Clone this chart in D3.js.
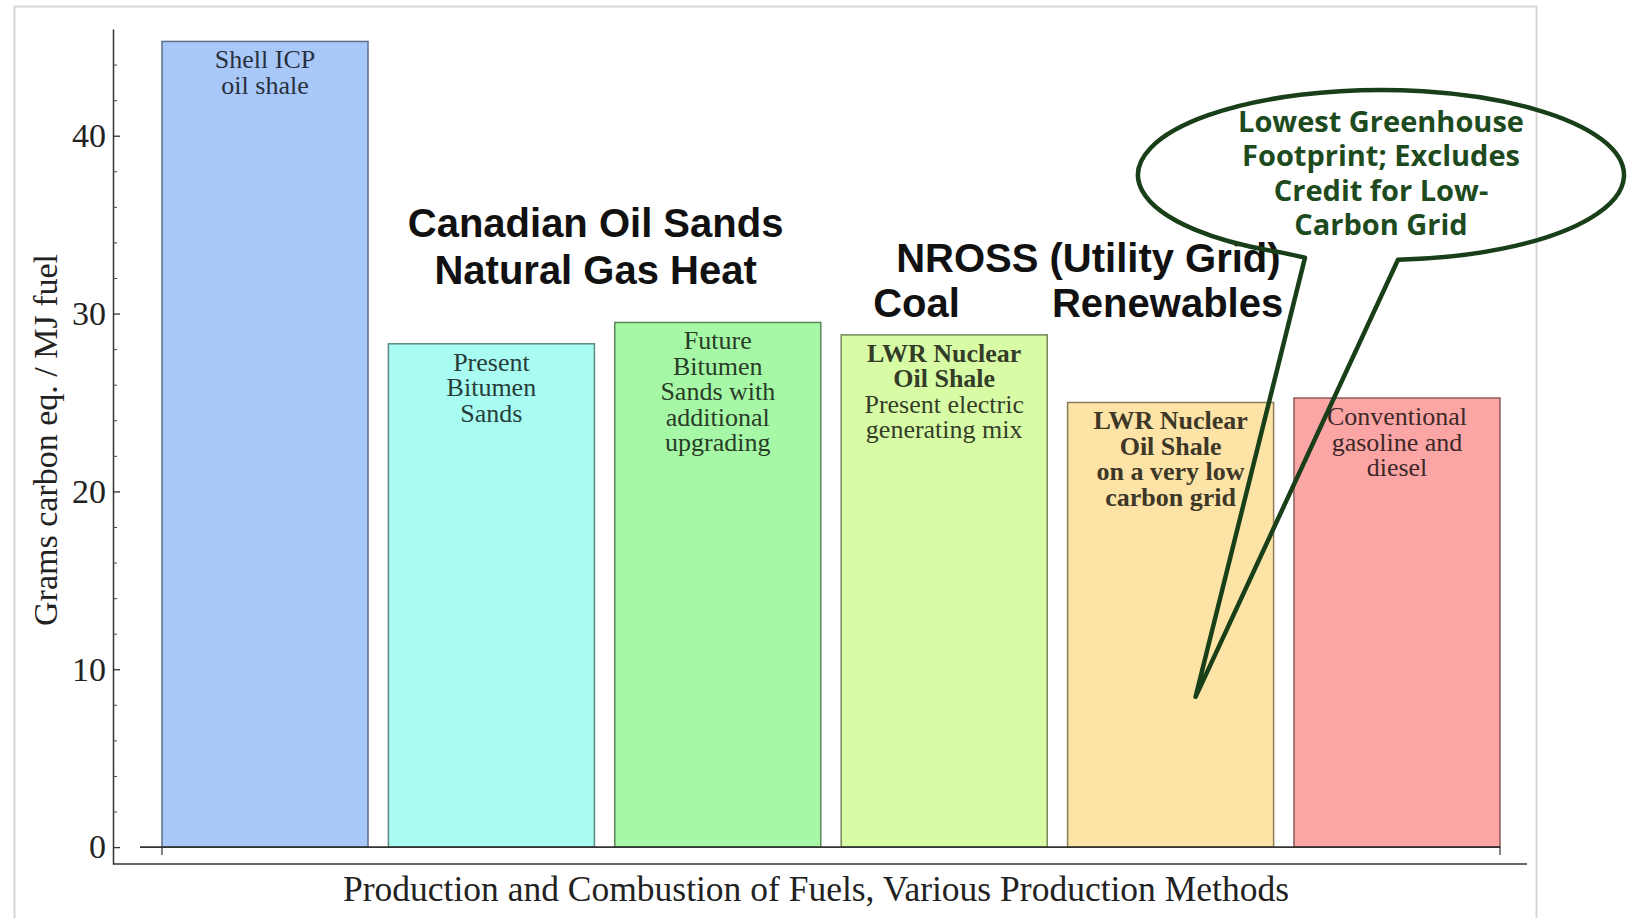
<!DOCTYPE html>
<html>
<head>
<meta charset="utf-8">
<script src="https://cdn.jsdelivr.net/npm/d3@7"></script>
<style>
  html, body { margin: 0; padding: 0; background: #fff; }
</style>
</head>
<body>
<div id="chart"></div>
<script>
// bar data, left to right
var categories = ["shell", "present", "future", "lwrmix", "lwrlow", "conventional"];
var values = [45.3, 28.3, 29.5, 28.8, 25.0, 25.25];
var colors = ["#a8c8fa", "#a8fcf2", "#a6f8a6", "#d8fca6", "#fde3a5", "#fca5a5"];
var barLabels = [
  ["Shell ICP", "oil shale"],
  ["Present", "Bitumen", "Sands"],
  ["Future", "Bitumen", "Sands with", "additional", "upgrading"],
  ["LWR Nuclear", "Oil Shale", "Present electric", "generating mix"],
  ["LWR Nuclear", "Oil Shale", "on a very low", "carbon grid"],
  ["Conventional", "gasoline and", "diesel"]
];
var boldLines = [0, 0, 0, 2, 4, 0];

var yTicks = [0, 10, 20, 30, 40];
var yMinorTicks = [2, 4, 6, 8, 12, 14, 16, 18, 22, 24, 26, 28, 32, 34, 36, 38, 42, 44];

var yTitle = "Grams carbon eq. / MJ fuel";
var xTitle = "Production and Combustion of Fuels, Various Production Methods";
var oilSandsTitle = ["Canadian Oil Sands", "Natural Gas Heat"];
var nrossTitle = "NROSS (Utility Grid)";
var nrossSub = ["Coal", "Renewables"];
var calloutLines = ["Lowest Greenhouse", "Footprint; Excludes", "Credit for Low-", "Carbon Grid"];
var calloutValue = 8.45; // where the pointer tip lands on the LWR low-carbon bar

var W = 1630, H = 918;
var serif = "'Liberation Serif', 'Times New Roman', serif";
var sans = "'Liberation Sans', Arial, sans-serif";

var svg = d3.select("#chart").append("svg")
    .attr("width", W)
    .attr("height", H)
    .attr("font-family", serif);

svg.append("rect").attr("width", W).attr("height", H).attr("fill", "#fff");

// light outer frame of the slide picture
svg.append("rect")
  .attr("x", 14.5).attr("y", 6.5)
  .attr("width", 1522).attr("height", 940)
  .attr("fill", "none")
  .attr("stroke", "#d6d6d6")
  .attr("stroke-width", 2);

var x = d3.scaleBand()
    .domain(categories)
    .range([162, 1500])
    .paddingInner(0.09)
    .paddingOuter(0);

var y = d3.scaleLinear()
    .domain([-0.95, 46])
    .range([864, 29]);

var axisX = 113;

// y axis
var yAxis = d3.axisLeft(y)
    .tickValues(yTicks)
    .tickSizeInner(-7)
    .tickSizeOuter(0)
    .tickPadding(7)
    .tickFormat(d3.format("d"));

var gy = svg.append("g")
    .attr("transform", "translate(" + axisX + ",0)")
    .call(yAxis)
    .attr("font-family", serif)
    .attr("font-size", 34);
gy.select(".domain").attr("stroke", "#333").attr("stroke-width", 1.5);
gy.selectAll(".tick line").attr("stroke", "#333").attr("stroke-width", 1.3);
gy.selectAll(".tick text").attr("fill", "#222");

var gyMinor = svg.append("g")
    .attr("transform", "translate(" + axisX + ",0)")
    .call(d3.axisLeft(y).tickValues(yMinorTicks).tickSizeInner(-4).tickSizeOuter(0).tickFormat(""));
gyMinor.select(".domain").remove();
gyMinor.selectAll(".tick line").attr("stroke", "#444").attr("stroke-width", 1);

// frame bottom line
svg.append("line")
  .attr("x1", axisX).attr("x2", 1527)
  .attr("y1", y.range()[0]).attr("y2", y.range()[0])
  .attr("stroke", "#333").attr("stroke-width", 1.5);

var data = categories.map(function(c, i) {
  return {cat: c, value: values[i], color: colors[i], lines: barLabels[i], bold: boldLines[i]};
});

// bars
svg.selectAll(".bar")
  .data(data)
  .enter().append("rect")
  .attr("class", "bar")
  .attr("x", function(d) { return x(d.cat); })
  .attr("width", x.bandwidth())
  .attr("y", function(d) { return y(d.value); })
  .attr("height", function(d) { return y(0) - y(d.value); })
  .attr("fill", function(d) { return d.color; })
  .attr("stroke", function(d) { return d3.color(d.color).darker(1.7); })
  .attr("stroke-width", 1.5);

// zero line with end ticks
var x0 = x.range()[0], x1 = x.range()[1];
svg.append("line")
  .attr("x1", x0 - 22).attr("x2", x1)
  .attr("y1", y(0)).attr("y2", y(0))
  .attr("stroke", "#333").attr("stroke-width", 1.8);
[x0, x1].forEach(function(t) {
  svg.append("line")
    .attr("x1", t).attr("x2", t)
    .attr("y1", y(0)).attr("y2", y(0) + 8)
    .attr("stroke", "#333").attr("stroke-width", 1.2);
});

// labels inside the bars
data.forEach(function(d) {
  var cx = x(d.cat) + x.bandwidth() / 2;
  var txt = svg.append("text")
      .attr("text-anchor", "middle")
      .attr("font-size", 26)
      .attr("fill", d3.color(d.color).darker(4));
  d.lines.forEach(function(line, i) {
    txt.append("tspan")
      .attr("x", cx)
      .attr("y", y(d.value) + 27 + i * 25.5)
      .attr("font-weight", i < d.bold ? "bold" : "normal")
      .text(line);
  });
});

// group titles
var oilMid = (x("present") + x("future") + x.bandwidth()) / 2 - 9;
oilSandsTitle.forEach(function(t, i) {
  svg.append("text")
    .attr("x", oilMid)
    .attr("y", y(34.3) + i * 47)
    .attr("text-anchor", "middle")
    .attr("font-family", sans)
    .attr("font-weight", "bold")
    .attr("font-size", 40)
    .attr("fill", "#111")
    .text(t);
});

var nrossMid = (x("lwrmix") + x("lwrlow") + x.bandwidth()) / 2 + 31;
svg.append("text")
  .attr("x", nrossMid)
  .attr("y", y(32.35))
  .attr("text-anchor", "middle")
  .attr("font-family", sans)
  .attr("font-weight", "bold")
  .attr("font-size", 40)
  .attr("fill", "#111")
  .text(nrossTitle);
svg.append("text")
  .attr("x", x("lwrmix") + 32)
  .attr("y", y(29.8))
  .attr("font-family", sans)
  .attr("font-weight", "bold")
  .attr("font-size", 40)
  .attr("fill", "#111")
  .text(nrossSub[0]);
svg.append("text")
  .attr("x", x("lwrlow") + x.bandwidth() / 2 - 3)
  .attr("y", y(29.8))
  .attr("text-anchor", "middle")
  .attr("font-family", sans)
  .attr("font-weight", "bold")
  .attr("font-size", 40)
  .attr("fill", "#111")
  .text(nrossSub[1]);

// axis titles
svg.append("text")
  .attr("transform", "translate(57,440) rotate(-90)")
  .attr("text-anchor", "middle")
  .attr("font-size", 34)
  .attr("fill", "#222")
  .text(yTitle);

svg.append("text")
  .attr("x", 816)
  .attr("y", 901)
  .attr("text-anchor", "middle")
  .attr("font-size", 35.5)
  .attr("fill", "#222")
  .text(xTitle);

// speech-bubble callout
var green = "#183f18";
var ecx = 1381, ecy = 175, erx = 243, ery = 85;
var tipX = x("lwrlow") + x.bandwidth() / 2 + 25, tipY = y(calloutValue);
function onEllipse(px) {
  var c = (px - ecx) / erx;
  return [px, ecy + ery * Math.sqrt(1 - c * c)];
}
var arcStart = onEllipse(1282), baseR = onEllipse(1398);
var bubble = d3.path();
bubble.moveTo(arcStart[0], arcStart[1]);
bubble.lineTo(1305, arcStart[1] + 5);
bubble.lineTo(tipX, tipY);
bubble.lineTo(baseR[0], baseR[1]);
svg.append("path")
  .attr("d", bubble.toString() + "A" + erx + "," + ery + " 0 1 0 " + arcStart[0] + "," + arcStart[1])
  .attr("fill", "none")
  .attr("stroke", green)
  .attr("stroke-width", 4.5)
  .attr("stroke-linejoin", "round");

calloutLines.forEach(function(t, i) {
  svg.append("text")
    .attr("x", ecx)
    .attr("y", ecy - 43 + i * 34.3)
    .attr("text-anchor", "middle")
    .attr("font-family", "'Open Sans', sans-serif")
    .attr("font-weight", "bold")
    .attr("font-size", 29)
    .attr("fill", "#1d4b1e")
    .text(t);
});
</script>
</body>
</html>
